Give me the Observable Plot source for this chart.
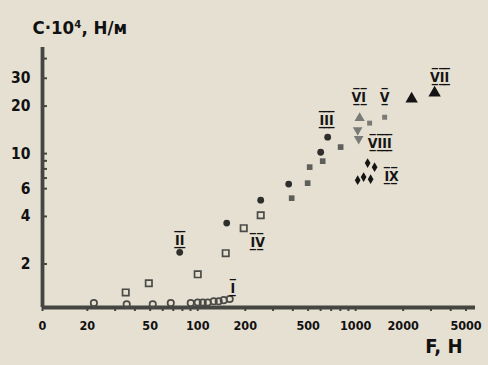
<!DOCTYPE html>
<html><head><meta charset="utf-8">
<script src="https://cdn.jsdelivr.net/npm/d3@7"></script>
<script src="https://cdn.jsdelivr.net/npm/@observablehq/plot@0.6"></script>
<style>
body{margin:0;background:#e6e0d2;}
#chart{width:488px;height:365px;}
svg text{font-family:"DejaVu Sans Condensed","Liberation Sans Narrow",sans-serif;font-weight:bold;}
</style></head><body><div id="chart"></div>
<script>
// axis domains and ticks
const xDomain = [10.4, 5740];
const yDomain = [1.06, 47];
const xTickValues = [10.4, 20, 30, 40, 50, 60, 70, 80, 90, 100, 200, 300, 400, 500, 600, 700, 800, 900, 1000, 2000, 3000, 4000, 5000];
const xLabelValues = [10.4, 20, 50, 100, 200, 500, 1000, 2000, 5000];
const xLabelTexts = ["0", "20", "50", "100", "200", "500", "1000", "2000", "5000"];
const yTickValues = [2, 4, 6, 7, 8, 9, 10, 20, 30, 40];
const yLabelValues = [2, 4, 6, 10, 20, 30];
const yLabelTexts = ["2", "4", "6", "10", "20", "30"];
const yTitle = "C·10⁴, Н/м";
const xTitle = "F, Н";

// series (F in N, C·10^4 in N/m)
const sI_F = [22.0, 35.5, 51.9, 67.5, 90.3, 100, 107.6, 115.7, 126.2, 135.8, 146.1, 159.4];
const sI_C = [1.13, 1.11, 1.11, 1.13, 1.13, 1.14, 1.14, 1.14, 1.16, 1.16, 1.18, 1.20];
const sII_F = [76.9, 152.6, 250.5, 376.7, 600.6, 665];
const sII_C = [2.37, 3.63, 5.07, 6.41, 10.2, 12.7];
const sIII_F = [393.5, 496.6, 511.5, 618.5, 803.5];
const sIII_C = [5.22, 6.50, 8.21, 8.96, 11.0];
const sIV_F = [35.0, 49.0, 100, 150.4, 195.5, 250.5];
const sIV_C = [1.32, 1.51, 1.72, 2.34, 3.37, 4.07];
const sV_F = [1226, 1526];
const sV_C = [15.6, 17.0];
const sVI_F = [1060];
const sVI_C = [16.8];
const sVII_F = [2262, 3162];
const sVII_C = [22.2, 24.2];
const sVIII_F = [1030, 1045];
const sVIII_C = [14.1, 12.4];
const sIX_F = [1191, 1318, 1030, 1123, 1244];
const sIX_C = [8.71, 8.21, 6.79, 7.10, 6.89];

// series labels
const labelTexts = ["I", "II", "III", "IV", "V", "VI", "VII", "VIII", "IX"];
const labelF = [166.6, 76.9, 655, 239.8, 1526, 1045, 3401, 1419, 1690];
const labelC = [1.40, 2.83, 16.3, 2.75, 22.8, 22.8, 30.5, 11.66, 7.2];

const pts = (F, C) => F.map((f, i) => ({F: f, C: C[i]}));
const barred = s => [...s].map(c => c + "\u0305\u0332").join("");
const labels = labelTexts.map((t, i) => ({t: barred(t), F: labelF[i], C: labelC[i]}));

const axisColor = "#454542";

const chart = Plot.plot({
  width: 488, height: 365,
  marginTop: 47, marginRight: 13, marginBottom: 58, marginLeft: 42,
  style: {background: "transparent", color: "#111"},
  x: {type: "log", domain: xDomain},
  y: {type: "log", domain: yDomain},
  marks: [
    Plot.axisX(xTickValues, {tickSize: 4, stroke: axisColor, strokeWidth: 2, fill: "none", label: null}),
    Plot.axisY(yTickValues, {tickSize: -5, stroke: axisColor, strokeWidth: 2, fill: "none", label: null}),
    Plot.text(xLabelValues, {x: d => d, frameAnchor: "bottom", dy: 22, text: (d, i) => xLabelTexts[i], fontSize: 12.5, fill: "#111"}),
    Plot.text(yLabelValues, {y: d => d, frameAnchor: "left", dx: -12, textAnchor: "end", text: (d, i) => yLabelTexts[i], fontSize: 15.5, fill: "#111"}),
    Plot.ruleX([xDomain[0]], {stroke: axisColor, strokeWidth: 3.8}),
    Plot.ruleY([yDomain[0]], {stroke: axisColor, strokeWidth: 3.8}),
    Plot.dot(pts(sI_F, sI_C), {x: "F", y: "C", r: 3.2, stroke: "#4a4a47", strokeWidth: 1.7, fill: "none"}),
    Plot.dot(pts(sIV_F, sIV_C), {x: "F", y: "C", r: 3.6, symbol: "square", stroke: "#4a4a47", strokeWidth: 1.7, fill: "none"}),
    Plot.dot(pts(sII_F, sII_C), {x: "F", y: "C", r: 3.4, fill: "#2e2e2c"}),
    Plot.dot(pts(sIII_F, sIII_C), {x: "F", y: "C", r: 3.2, symbol: "square", fill: "#5e5e5b"}),
    Plot.dot(pts(sV_F, sV_C), {x: "F", y: "C", r: 2.8, symbol: "square", fill: "#7a7a76"}),
    Plot.dot(pts(sVI_F, sVI_C), {x: "F", y: "C", r: 3.8, symbol: "triangle", fill: "#7a7a76"}),
    Plot.dot(pts(sVIII_F, sVIII_C), {x: "F", y: "C", r: 3.6, symbol: "triangle", rotate: 180, fill: "#7a7a76"}),
    Plot.dot(pts(sVII_F, sVII_C), {x: "F", y: "C", r: 4.6, symbol: "triangle", fill: "#141414"}),
    Plot.dot(pts(sIX_F, sIX_C), {x: "F", y: "C", r: 3, symbol: "diamond", fill: "#141414"}),
    Plot.text(labels, {x: "F", y: "C", text: "t", fontSize: 14, fill: "#141414"}),
    Plot.text([yTitle], {frameAnchor: "top-left", dx: -10, dy: -19, textAnchor: "start", lineAnchor: "middle", fontSize: 18.5, fill: "#111"}),
    Plot.text([xTitle], {frameAnchor: "bottom-right", dx: -13, dy: 45, textAnchor: "end", fontSize: 20, fill: "#111"})
  ]
});
document.getElementById("chart").appendChild(chart);
</script></body></html>
